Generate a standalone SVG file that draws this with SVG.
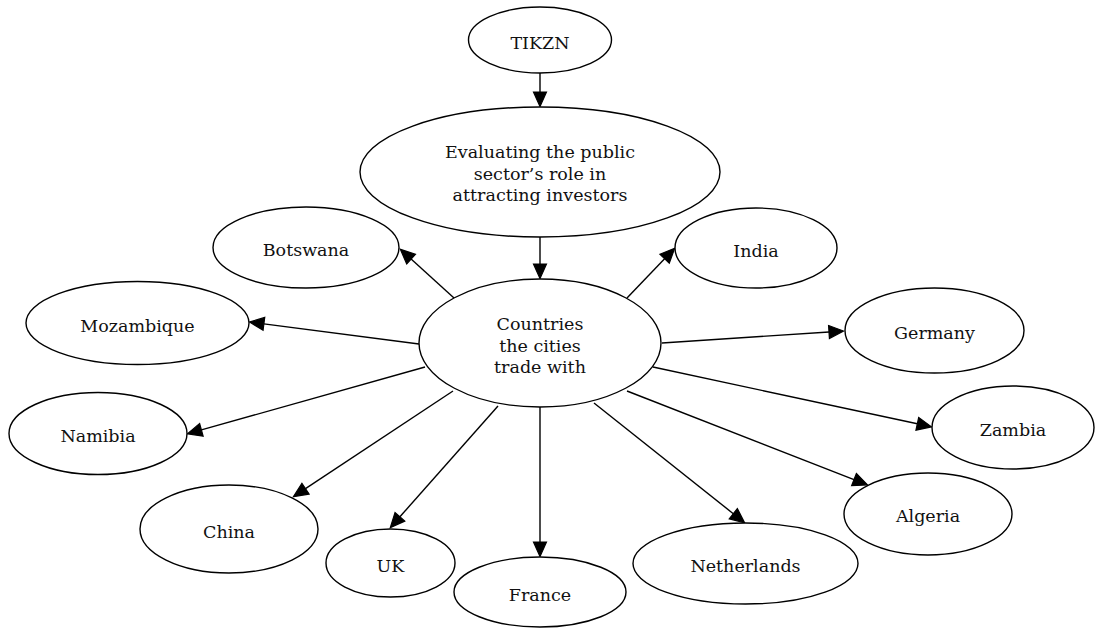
<svg xmlns="http://www.w3.org/2000/svg" width="1096" height="628" viewBox="0 0 1096 628">
  <style>
    .node ellipse { fill: #ffffff; stroke: #000000; stroke-width: 1.4; }
    .node text { font-family: "DejaVu Serif", "Liberation Serif", serif; font-size: 17.5px; fill: #111111; text-anchor: middle; }
    .edges line { stroke: #000000; stroke-width: 1.4; marker-end: url(#arrow); }
  </style>
  <defs>
    <marker id="arrow" markerUnits="userSpaceOnUse" viewBox="0 -8 17 16" refX="0" refY="0" markerWidth="17" markerHeight="16" orient="auto" overflow="visible">
      <path d="M0,-6.5 L14.5,0 L0,6.5 Z" fill="#000000" stroke="#000000" stroke-width="1.2" stroke-linejoin="miter"/>
    </marker>
  </defs>
  <rect width="1096" height="628" fill="#ffffff"/>

  <!-- connectors: each line stops at the base of its arrowhead -->
  <g id="edges" class="edges">
    <line x1="540" y1="73" x2="540" y2="92"/>
    <line x1="540" y1="237" x2="540" y2="264"/>
    <line x1="454" y1="298" x2="411.1" y2="259.1"/>
    <line x1="627" y1="298" x2="664.6" y2="258.8"/>
    <line x1="419" y1="344" x2="263.9" y2="323.9"/>
    <line x1="425" y1="367" x2="201.4" y2="429.9"/>
    <line x1="453" y1="391" x2="305.5" y2="488.7"/>
    <line x1="498" y1="406" x2="399.9" y2="516.8"/>
    <line x1="540" y1="407" x2="540" y2="542"/>
    <line x1="594" y1="403" x2="733.3" y2="513.7"/>
    <line x1="627" y1="391" x2="854" y2="479.6"/>
    <line x1="653" y1="367" x2="917.3" y2="423.8"/>
    <line x1="662" y1="343" x2="829" y2="332"/>
  </g>

  <g id="tikzn" class="node">
    <ellipse cx="540" cy="40" rx="71.5" ry="33"/>
    <text x="540" y="48.5">TIKZN</text>
  </g>
  <g id="evaluating" class="node">
    <ellipse cx="540" cy="172" rx="180" ry="65"/>
    <text x="540" y="158">Evaluating the public</text>
    <text x="540" y="180">sector’s role in</text>
    <text x="540" y="201">attracting investors</text>
  </g>
  <g id="countries" class="node">
    <ellipse cx="540" cy="343" rx="121" ry="64"/>
    <text x="540" y="330">Countries</text>
    <text x="540" y="352">the cities</text>
    <text x="540" y="373">trade with</text>
  </g>
  <g id="botswana" class="node">
    <ellipse cx="306" cy="247.5" rx="93" ry="40.5"/>
    <text x="306" y="256">Botswana</text>
  </g>
  <g id="india" class="node">
    <ellipse cx="756" cy="248" rx="81" ry="40"/>
    <text x="756" y="256.5">India</text>
  </g>
  <g id="mozambique" class="node">
    <ellipse cx="137.5" cy="323" rx="111.5" ry="41.5"/>
    <text x="137.5" y="331.5">Mozambique</text>
  </g>
  <g id="germany" class="node">
    <ellipse cx="934.5" cy="330.5" rx="89.5" ry="42.5"/>
    <text x="934.5" y="339">Germany</text>
  </g>
  <g id="namibia" class="node">
    <ellipse cx="98" cy="433.5" rx="89" ry="41"/>
    <text x="98" y="442">Namibia</text>
  </g>
  <g id="zambia" class="node">
    <ellipse cx="1013" cy="427.5" rx="81" ry="41.5"/>
    <text x="1013" y="436">Zambia</text>
  </g>
  <g id="china" class="node">
    <ellipse cx="229" cy="529" rx="89" ry="44"/>
    <text x="229" y="537.5">China</text>
  </g>
  <g id="uk" class="node">
    <ellipse cx="390.5" cy="563" rx="64.5" ry="34"/>
    <text x="390.5" y="571.5">UK</text>
  </g>
  <g id="france" class="node">
    <ellipse cx="540" cy="592" rx="86" ry="35"/>
    <text x="540" y="600.5">France</text>
  </g>
  <g id="netherlands" class="node">
    <ellipse cx="745.5" cy="563.5" rx="112.5" ry="40.5"/>
    <text x="745.5" y="572">Netherlands</text>
  </g>
  <g id="algeria" class="node">
    <ellipse cx="928" cy="514" rx="84" ry="41"/>
    <text x="928" y="522">Algeria</text>
  </g>
</svg>
